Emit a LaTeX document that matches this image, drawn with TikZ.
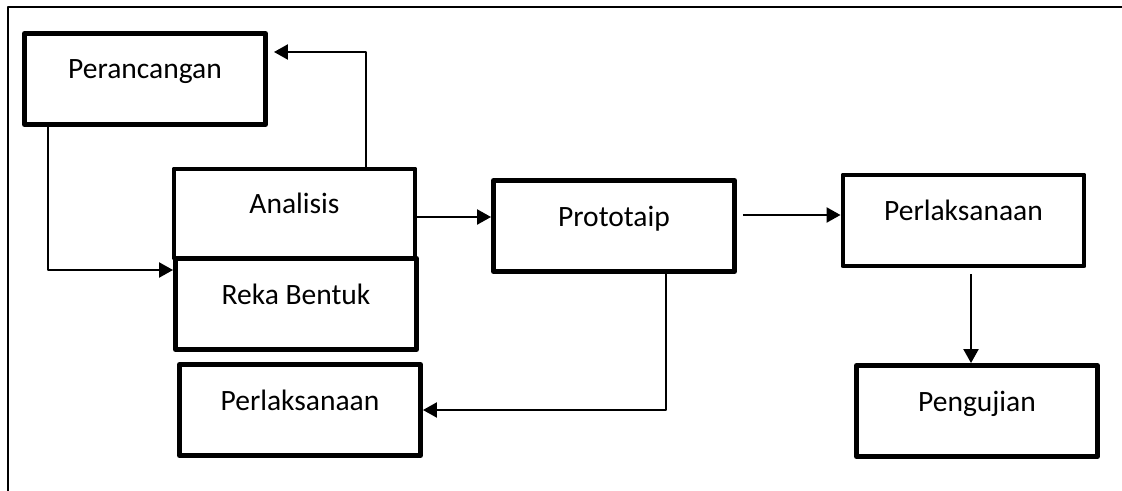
\documentclass[tikz,border=0pt]{standalone}
\usepackage{fontspec}
\setmainfont{Carlito}
\usetikzlibrary{arrows.meta}
\begin{document}
\begin{tikzpicture}[line join=round, line cap=round,font=\fontsize{16.8}{20}\selectfont,>={Triangle[length=0.28cm,width=0.3cm]},
	kotak/.style={draw,line width=2.8pt,minimum width=4.82cm,minimum height=1.82cm,text height=12pt,text depth=12pt,inner sep=0pt},
	panah/.style={->,line width=1.3pt,line cap=butt}]
	\useasboundingbox (0,0) rectangle (22.44,-9.82);
	% bingkai luar
	\draw[line width=1.3pt,line cap=butt] (0.16,-9.82)--(0.16,-0.14)--(22.44,-0.14);
	\node[kotak] (per) at (2.90,-1.58) {Perancangan};
	\node[kotak,minimum height=1.78cm] (ana) at (5.89,-4.27) {Analisis};
	\node[kotak] (reka) at (5.92,-6.08) {Reka Bentuk};
	\node[kotak] (perlL) at (6.00,-8.20) {Perlaksanaan};
	\node[kotak] (proto) at (12.28,-4.52) {Prototaip};
	\node[kotak] (perlR) at (19.27,-4.41) {Perlaksanaan};
	\node[kotak] (peng) at (19.54,-8.22) {Pengujian};
	% anak panah
	\draw[panah,shorten >=0.12cm] ([xshift=1.43cm]ana.north) |- ([yshift=0.54cm]per.east);
	\draw[panah] ([xshift=-1.94cm]per.south) |- ([yshift=0.68cm]reka.west);
	\draw[panah] ([yshift=-0.07cm]ana.east) -- ([yshift=-0.07cm]ana.east -| proto.west);
	\draw[panah,shorten <=0.12cm] ([yshift=0.22cm]proto.east) -- ([yshift=0.22cm]proto.east -| perlR.west);
	\draw[panah] ([xshift=1.04cm]proto.south) |- (perlL.east);
	\draw[panah,shorten <=0.12cm] ([xshift=0.15cm]perlR.south) -- ([xshift=0.15cm]perlR.south |- peng.north);
\end{tikzpicture}
\end{document}
